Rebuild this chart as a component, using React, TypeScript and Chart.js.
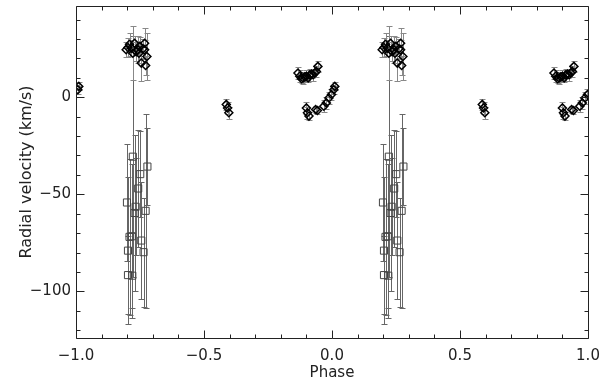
import { useEffect, useRef } from "react";
import { Chart, registerables } from "chart.js";

Chart.register(...registerables);

// Primary star (diamonds): orbital phase, radial velocity (km/s), 1-sigma error
const primaryPhase = [
  -0.804, -0.797, -0.791, -0.784, -0.778, -0.771, -0.765, -0.758, -0.754, -0.751, -0.745, -0.738, -0.732, -0.732, -0.728, -0.723,
  -0.413, -0.408, -0.403,
  -0.133, -0.126, -0.119, -0.113, -0.106, -0.1, -0.093, -0.087, -0.08, -0.074, -0.067, -0.061, -0.055,
  -0.1, -0.096, -0.09, -0.064, -0.057, -0.032, -0.022, -0.012, -0.002, 0.007, 0.011,
];
const primaryRV = [
  24.5, 25.6, 27.3, 25.3, 22.7, 27.8, 23.5, 24.5, 22.7, 26.2, 17.6, 25.0, 27.8, 24.5, 16.4, 21.0,
  -3.7, -5.5, -8.0,
  12.5, 10.8, 9.5, 9.9, 10.5, 10.8, 10.0, 11.5, 12.0, 11.6, 12.5, 13.3, 15.9,
  -5.5, -8.0, -9.7, -6.3, -6.8, -4.6, -2.9, -0.4, 1.4, 3.9, 5.6,
];
const primaryErr = [
  4, 5, 6, 4, 14, 4, 5, 7, 5, 5, 9, 5, 8, 5, 5, 12,
  3, 3, 3,
  3, 3, 2, 3, 2, 3, 2, 3, 2, 3, 2, 3, 3,
  3, 3, 2, 2, 2, 3, 3, 3, 3, 2, 2,
];

// Secondary star (squares)
const secondaryPhase = [
  -0.778, -0.721, -0.749, -0.757, -0.801, -0.767, -0.771, -0.728, -0.782, -0.791, -0.797, -0.745, -0.736, -0.797, -0.78,
];
const secondaryRV = [
  -30.6, -35.7, -39.6, -47.0, -54.2, -56.4, -59.6, -58.5, -71.6, -71.9, -79.0, -73.8, -79.8, -91.6, -91.9,
];
const secondaryErr = [
  62, 20, 22, 30, 30, 25, 40, 50, 37, 40, 38, 30, 28, 20, 22,
];

const xTicks = [-1, -0.5, 0, 0.5, 1];
const yTicks = [-100, -50, 0];
const xLabel = "Phase";
const yLabel = "Radial velocity (km/s)";

const FONT = "'DejaVu Sans', sans-serif";
const INK = "#222";

function fold(phase: number[], rv: number[], err: number[]) {
  const pts: { x: number; y: number; e: number }[] = [];
  for (let i = 0; i < phase.length; i++) {
    for (const s of [-1, 0, 1]) {
      const x = phase[i] + s;
      if (x >= -1 && x <= 1) pts.push({ x, y: rv[i], e: err[i] });
    }
  }
  return pts;
}

const fmt = (v: number, d: number) => {
  const s = Math.abs(v).toFixed(d);
  return v < 0 ? "\u2212" + s : s;
};

const errorBars = {
  id: "errorBars",
  beforeDatasetsDraw(chart: any) {
    const { ctx, chartArea: a, scales } = chart;
    const xs = scales.x;
    const ys = scales.y;
    ctx.save();
    ctx.beginPath();
    ctx.rect(a.left, a.top, a.right - a.left, a.bottom - a.top);
    ctx.clip();
    chart.data.datasets.forEach((ds: any) => {
      ctx.strokeStyle = ds.errColor;
      ctx.lineWidth = 1;
      ds.data.forEach((p: any) => {
        const px = Math.round(xs.getPixelForValue(p.x)) + 0.5;
        const t = Math.round(ys.getPixelForValue(p.y + p.e)) + 0.5;
        const b = Math.round(ys.getPixelForValue(p.y - p.e)) + 0.5;
        ctx.beginPath();
        ctx.moveTo(px, t);
        ctx.lineTo(px, b);
        ctx.moveTo(px - 3, t);
        ctx.lineTo(px + 3, t);
        ctx.moveTo(px - 3, b);
        ctx.lineTo(px + 3, b);
        ctx.stroke();
      });
    });
    ctx.restore();
  },
};

const frame = {
  id: "frame",
  afterDraw(chart: any) {
    const { ctx, chartArea: a, scales } = chart;
    const xs = scales.x;
    const ys = scales.y;
    const L = Math.round(a.left) + 0.5;
    const R = Math.round(a.right) + 0.5;
    const T = Math.round(a.top) + 0.5;
    const B = Math.round(a.bottom) + 0.5;
    ctx.save();
    ctx.strokeStyle = INK;
    ctx.lineWidth = 1;
    ctx.beginPath();
    ctx.moveTo(L, T);
    ctx.lineTo(R, T);
    ctx.lineTo(R, B);
    ctx.lineTo(L, B);
    ctx.closePath();
    ctx.stroke();
    ctx.beginPath();
    for (let i = -10; i <= 10; i++) {
      const v = i / 10;
      const len = i % 5 === 0 ? 8 : 4;
      const px = Math.round(xs.getPixelForValue(v)) + 0.5;
      ctx.moveTo(px, B);
      ctx.lineTo(px, B - len);
      ctx.moveTo(px, T);
      ctx.lineTo(px, T + len);
    }
    for (let v = -120; v <= 40; v += 10) {
      const len = v % 50 === 0 ? 8 : 4;
      const py = Math.round(ys.getPixelForValue(v)) + 0.5;
      ctx.moveTo(L, py);
      ctx.lineTo(L + len, py);
      ctx.moveTo(R, py);
      ctx.lineTo(R - len, py);
    }
    ctx.stroke();
    ctx.restore();
  },
};

const noPad = (s: any) => {
  s.paddingLeft = 0;
  s.paddingRight = 0;
  s.paddingTop = 0;
  s.paddingBottom = 0;
};

export default function App() {
  const ref = useRef<HTMLCanvasElement | null>(null);

  useEffect(() => {
    if (!ref.current) return;
    const chart = new Chart(ref.current, {
      type: "scatter",
      data: {
        datasets: [
          {
            label: "secondary",
            data: fold(secondaryPhase, secondaryRV, secondaryErr),
            pointStyle: "rect",
            pointRadius: 5,
            borderWidth: 1,
            borderColor: "#444",
            backgroundColor: "rgba(0,0,0,0)",
            errColor: "#666",
          } as any,
          {
            label: "primary",
            data: fold(primaryPhase, primaryRV, primaryErr),
            pointStyle: "rectRot",
            pointRadius: 4,
            borderWidth: 1.5,
            borderColor: "#000",
            backgroundColor: "rgba(255,255,255,0)",
            errColor: "#888",
          } as any,
        ],
      },
      options: {
        animation: false,
        responsive: false,
        events: [],
        layout: { padding: { top: 4, right: 12, left: 0, bottom: 0 } },
        plugins: { legend: { display: false }, tooltip: { enabled: false } },
        scales: {
          x: {
            type: "linear",
            min: -1,
            max: 1,
            grid: { display: false, drawTicks: false },
            border: { display: false },
            afterBuildTicks: (s: any) => {
              s.ticks = xTicks.map((v) => ({ value: v }));
            },
            afterFit: (s: any) => {
              s.height = 43;
              noPad(s);
            },
            ticks: {
              font: { family: FONT, size: 15 },
              color: INK,
              padding: 9,
              maxRotation: 0,
              callback: (v: any) => fmt(Number(v), 1),
            },
            title: {
              display: true,
              text: xLabel,
              font: { family: FONT, size: 15 },
              color: INK,
              padding: { top: 0, bottom: -1 },
            },
          },
          y: {
            type: "linear",
            min: -124,
            max: 47,
            grid: { display: false, drawTicks: false },
            border: { display: false },
            afterBuildTicks: (s: any) => {
              s.ticks = yTicks.map((v) => ({ value: v }));
            },
            afterFit: (s: any) => {
              s.width = 76;
              noPad(s);
            },
            ticks: {
              font: { family: FONT, size: 15 },
              color: INK,
              padding: 5,
              callback: (v: any) => fmt(Number(v), 0),
            },
            title: {
              display: true,
              text: yLabel,
              font: { family: FONT, size: 16 },
              color: INK,
              padding: { top: 17, bottom: 0 },
            },
          },
        },
      },
      plugins: [errorBars, frame],
    });
    return () => chart.destroy();
  }, []);

  return (
    <div style={{ position: "absolute", left: 0, top: 0, width: 600, height: 381, background: "#fff" }}>
      <canvas ref={ref} width={600} height={381} />
    </div>
  );
}
